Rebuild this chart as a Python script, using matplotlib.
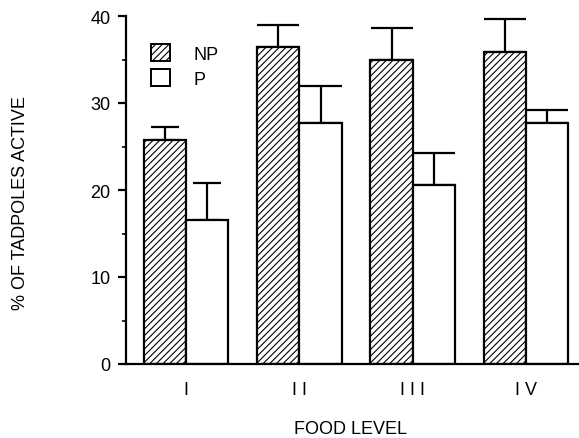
import matplotlib
matplotlib.use("Agg")
import matplotlib.pyplot as plt
import numpy as np
from matplotlib.patches import Patch

plt.rcParams['font.family'] = ['Liberation Sans', 'DejaVu Sans']
plt.rcParams['hatch.linewidth'] = 0.8

categories = ["I", "I I", "I I I", "I V"]
np_values = [25.8, 36.4, 34.9, 35.9]
np_err = [1.4, 2.6, 3.7, 3.8]
p_values = [16.5, 27.7, 20.6, 27.7]
p_err = [4.3, 4.3, 3.7, 1.5]

fig = plt.figure(figsize=(5.79, 4.39), dpi=100)
W, H = 579, 439
ax = fig.add_axes([126 / W, (H - 365) / H, (578 - 126) / W, (365 - 17) / H])

x = np.arange(len(categories))
w = 0.373
ax.bar(x - w / 2, np_values, w, color='white', edgecolor='black', hatch='/////', linewidth=1.6, zorder=2)
ax.bar(x + w / 2, p_values, w, color='white', edgecolor='black', linewidth=1.6, zorder=2)
caps = [10, 15, 15, 15]
for i in range(len(categories)):
    ax.errorbar(x[i] - w / 2, np_values[i], yerr=[[0], [np_err[i]]], fmt='none', ecolor='black',
                elinewidth=1.6, capsize=caps[i], capthick=1.6, zorder=1)
    ax.errorbar(x[i] + w / 2, p_values[i], yerr=[[0], [p_err[i]]], fmt='none', ecolor='black',
                elinewidth=1.6, capsize=caps[i], capthick=1.6, zorder=1)

ax.set_xlim(-0.532, 3.46)
ax.set_ylim(0, 40)
ax.spines['top'].set_visible(False)
ax.spines['right'].set_visible(False)
ax.spines['left'].set_linewidth(1.6)
ax.spines['bottom'].set_linewidth(1.6)
ax.set_yticks([0, 10, 20, 30, 40])
ax.set_yticks([5, 15, 25, 35], minor=True)
ax.tick_params(axis='y', which='major', length=6, width=1.6, labelsize=13, pad=5)
ax.tick_params(axis='y', which='minor', length=3, width=1.2)
ax.set_xticks(x)
ax.set_xticklabels(categories, fontsize=13)
ax.tick_params(axis='x', length=0, pad=12)

ax.set_ylabel("% OF TADPOLES ACTIVE", fontsize=13, va='center', ha='center')
ax.yaxis.set_label_coords((21 - 126) / 452, (365 - 203) / 348)
ax.set_xlabel("FOOD LEVEL", fontsize=13, va='center', ha='center')
ax.xaxis.set_label_coords((351 - 126) / 452, (365 - 430) / 348)

handles = [Patch(facecolor='white', edgecolor='black', hatch='/////', linewidth=1.4),
           Patch(facecolor='white', edgecolor='black', linewidth=1.4)]
ax.legend(handles, ["NP", "P"], loc='upper left', bbox_to_anchor=(0.02, 0.965), frameon=False,
          fontsize=13, handlelength=1.05, handleheight=1.05, handletextpad=1.3, labelspacing=0.35)

fig.savefig("out.png", dpi=100)
